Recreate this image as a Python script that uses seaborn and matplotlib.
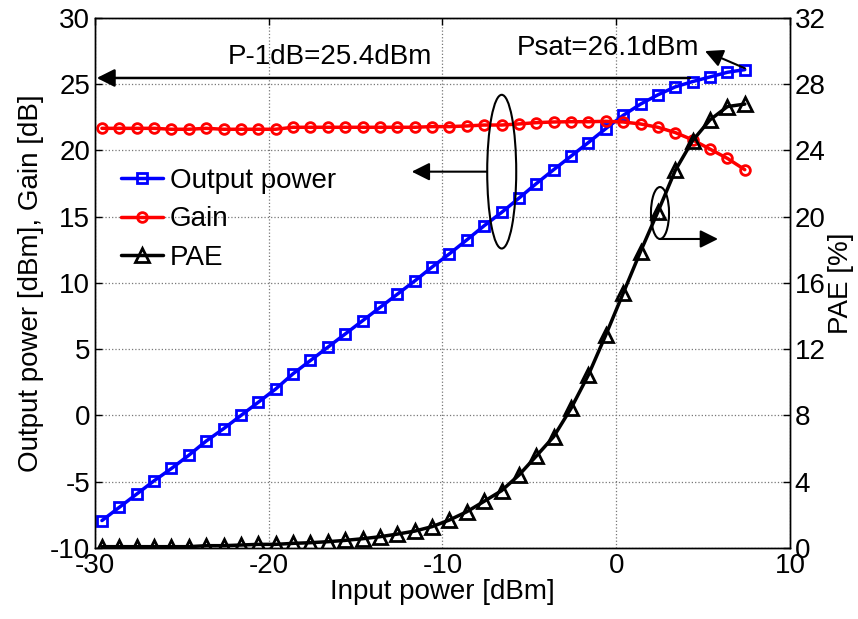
import numpy as np
import pandas as pd
import matplotlib
matplotlib.use("Agg")
import matplotlib.pyplot as plt
from matplotlib.patches import Ellipse
import seaborn as sns

# data
pin = [-29.6, -28.6, -27.6, -26.6, -25.6, -24.6, -23.6, -22.6, -21.6, -20.6,
       -19.6, -18.6, -17.6, -16.6, -15.6, -14.6, -13.6, -12.6, -11.6, -10.6,
       -9.6, -8.6, -7.6, -6.6, -5.6, -4.6, -3.6, -2.6, -1.6, -0.6,
       0.4, 1.4, 2.4, 3.4, 4.4, 5.4, 6.4, 7.4]
pout = [-7.93, -6.93, -5.93, -4.93, -4.0, -3.0, -1.93, -1.0, 0.0, 1.0,
        2.0, 3.15, 4.15, 5.15, 6.15, 7.15, 8.15, 9.15, 10.15, 11.2,
        12.2, 13.25, 14.32, 15.32, 16.4, 17.5, 18.55, 19.57, 20.6, 21.65,
        22.65, 23.5, 24.2, 24.8, 25.2, 25.55, 25.9, 26.1]
gain = [21.67, 21.67, 21.67, 21.67, 21.6, 21.6, 21.67, 21.6, 21.6, 21.6,
        21.6, 21.75, 21.75, 21.75, 21.75, 21.75, 21.75, 21.75, 21.75, 21.8,
        21.8, 21.85, 21.92, 21.92, 22.0, 22.1, 22.15, 22.17, 22.17, 22.2,
        22.15, 22.0, 21.75, 21.35, 20.8, 20.1, 19.4, 18.55]
pae = [0.08, 0.08, 0.08, 0.08, 0.08, 0.08, 0.14, 0.14, 0.18, 0.22,
       0.22, 0.28, 0.32, 0.38, 0.46, 0.56, 0.68, 0.84, 1.02, 1.29,
       1.69, 2.19, 2.82, 3.46, 4.4, 5.55, 6.72, 8.43, 10.45, 12.86,
       15.38, 17.9, 20.3, 22.8, 24.6, 25.85, 26.65, 26.8]

df = pd.DataFrame({"pin": pin, "pout": pout, "gain": gain, "pae": pae})

sns.set_style("white")
plt.rcParams['font.family'] = ['Liberation Sans', 'DejaVu Sans']
plt.rcParams['font.size'] = 20
plt.rcParams['axes.unicode_minus'] = False
for k in ('text.color', 'axes.labelcolor', 'xtick.color', 'ytick.color'):
    plt.rcParams[k] = 'black'

fig = plt.figure(figsize=(8.58, 6.19), dpi=100)
ax = fig.add_axes([0.1107, 0.1147, 0.81, 0.8563])
ax2 = ax.twinx()

sns.lineplot(data=df, x="pin", y="pout", ax=ax, color="#0000ff", linewidth=2.5,
             marker="s", markersize=7, markerfacecolor="none",
             markeredgecolor="#0000ff", markeredgewidth=2, label="Output power")
sns.lineplot(data=df, x="pin", y="gain", ax=ax, color="#ff0000", linewidth=2.5,
             marker="o", markersize=7, markerfacecolor="none",
             markeredgecolor="#ff0000", markeredgewidth=2, label="Gain")
sns.lineplot(data=df, x="pin", y="pae", ax=ax2, color="black", linewidth=2.5,
             marker="^", markersize=10, markerfacecolor="none",
             markeredgecolor="black", markeredgewidth=2, label="PAE")

ax.set_xlim(-30, 10)
ax.set_ylim(-10, 30)
ax2.set_ylim(0, 32)
ax.set_xticks([-30, -20, -10, 0, 10])
ax.set_yticks(np.arange(-10, 31, 5))
ax2.set_yticks(np.arange(0, 33, 4))

ax.set_xlabel("Input power [dBm]", fontsize=20, labelpad=0)
ax.set_ylabel("Output power [dBm], Gain [dB]", fontsize=20, labelpad=4)
ax2.set_ylabel("PAE [%]", fontsize=20, labelpad=2)

ax.grid(True, linestyle=":", color="#777777", linewidth=0.9)
ax.tick_params(direction="in", labelsize=20, top=True, right=False, length=5, width=1)
ax2.tick_params(direction="in", labelsize=20, length=5, width=1)
for a in (ax, ax2):
    for s in a.spines.values():
        s.set_color("black")
        s.set_linewidth(1)

# legend
if ax.get_legend() is not None:
    ax.get_legend().remove()
handles = ax.get_lines()[:2] + ax2.get_lines()[:1]
ax2.legend(handles=handles, labels=["Output power", "Gain", "PAE"],
           loc="upper left", bbox_to_anchor=(0.022, 0.738), frameon=False,
           fontsize=20, handlelength=1.5, handletextpad=0.25, labelspacing=0.45,
           borderaxespad=0)

# annotations (left-axis coordinates)
t = ax.transData
arrow = dict(arrowstyle="-|>", color="black", lw=1.8, mutation_scale=27,
             shrinkA=0, shrinkB=0)
ax2.annotate("", xy=(-29.9, 25.47), xytext=(4.25, 25.47),
             xycoords=t, textcoords=t, arrowprops=arrow)
ax2.text(-16.5, 27.06, "P-1dB=25.4dBm", transform=t, ha="center", va="center", fontsize=20)
ax2.text(-0.5, 27.74, "Psat=26.1dBm", transform=t, ha="center", va="center", fontsize=20)
ax2.annotate("", xy=(5.11, 27.5), xytext=(7.41, 26.2),
             xycoords=t, textcoords=t, arrowprops=dict(arrow, lw=1.5))

ax2.add_patch(Ellipse((-6.59, 18.4), 1.67, 11.6, transform=t, fill=False,
                      edgecolor="black", lw=1.5))
ax2.annotate("", xy=(-11.77, 18.4), xytext=(-7.44, 18.4),
             xycoords=t, textcoords=t, arrowprops=dict(arrow, lw=1.5))
ax2.add_patch(Ellipse((2.52, 15.28), 1.04, 3.92, transform=t, fill=False,
                      edgecolor="black", lw=1.5))
ax2.annotate("", xy=(5.86, 13.32), xytext=(2.52, 13.32),
             xycoords=t, textcoords=t, arrowprops=dict(arrow, lw=1.5))

fig.savefig("out.png", dpi=100)
